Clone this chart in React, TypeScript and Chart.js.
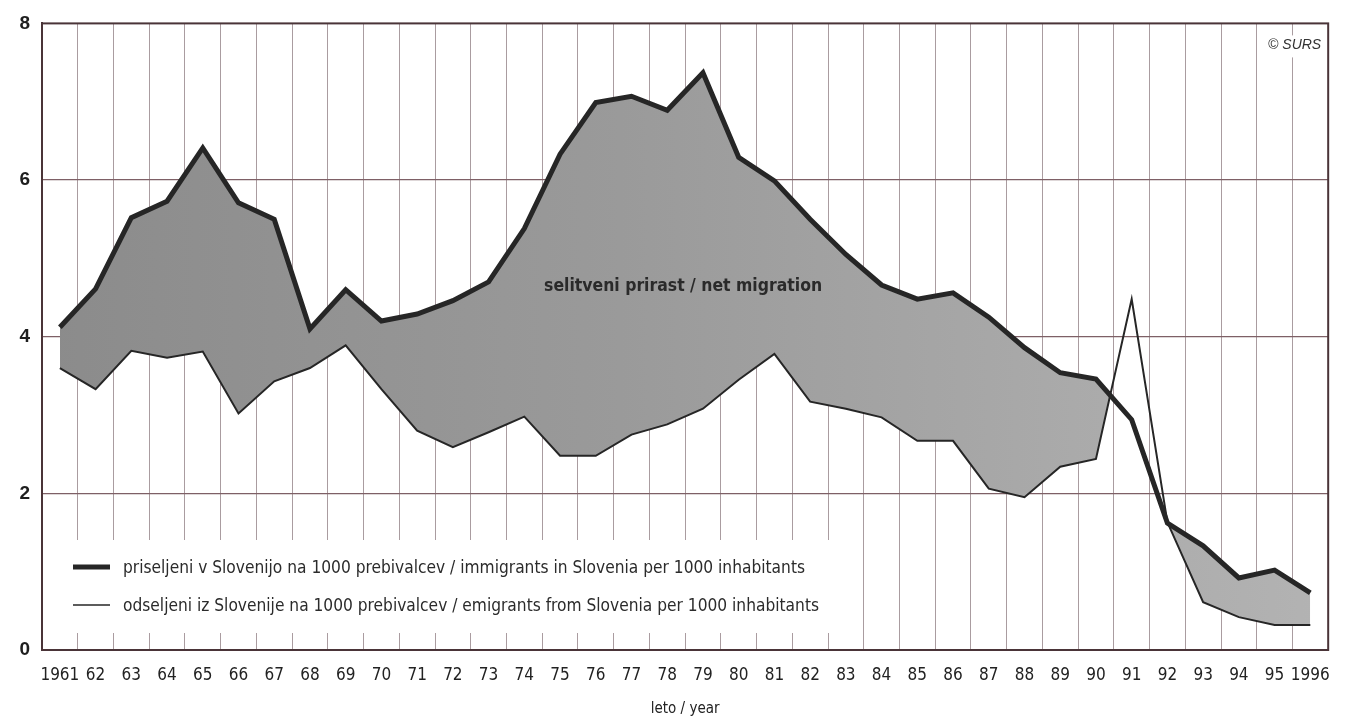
import React, { useEffect, useRef } from 'react';
import { Chart, registerables } from 'chart.js';

Chart.register(...registerables);

const years = ['1961', '62', '63', '64', '65', '66', '67', '68', '69', '70', '71', '72', '73', '74', '75', '76', '77', '78', '79', '80', '81', '82', '83', '84', '85', '86', '87', '88', '89', '90', '91', '92', '93', '94', '95', '1996'];

const immigrants = [4.12, 4.61, 5.52, 5.73, 6.41, 5.71, 5.5, 4.1, 4.6, 4.2, 4.29, 4.46, 4.7, 5.38, 6.33, 6.99, 7.07, 6.89, 7.37, 6.29, 5.99, 5.5, 5.05, 4.66, 4.48, 4.56, 4.25, 3.86, 3.54, 3.46, 2.94, 1.62, 1.33, 0.92, 1.02, 0.73];

const emigrants = [3.6, 3.33, 3.82, 3.73, 3.81, 3.02, 3.43, 3.6, 3.89, 3.33, 2.8, 2.59, 2.78, 2.98, 2.48, 2.48, 2.75, 2.88, 3.08, 3.45, 3.78, 3.17, 3.08, 2.97, 2.67, 2.67, 2.06, 1.95, 2.34, 2.44, 4.48, 1.63, 0.61, 0.42, 0.32, 0.32];

const yTickValues = [0, 2, 4, 6, 8];

const legendLabels = [
  'priseljeni v Slovenijo na 1000 prebivalcev / immigrants in Slovenia per 1000 inhabitants',
  'odseljeni iz Slovenije na 1000 prebivalcev / emigrants from Slovenia per 1000 inhabitants',
];
const areaLabel = 'selitveni prirast / net migration';
const xTitle = 'leto / year';
const credit = '© SURS';

const NARROW = "'Liberation Sans Narrow', 'Arial Narrow', 'DejaVu Sans Condensed', 'Liberation Sans', Arial, sans-serif";
const SANS = "'Liberation Sans', Arial, sans-serif";
const INK = '#262626';
const FRAME = '#4a3438';

function fitText(ctx: CanvasRenderingContext2D, text: string, x: number, y: number, maxW: number, align: 'left' | 'center' | 'right') {
  const w = ctx.measureText(text).width;
  const sx = w > maxW ? maxW / w : 1;
  ctx.save();
  ctx.translate(x, y);
  ctx.scale(sx, 1);
  ctx.textAlign = align;
  ctx.fillText(text, 0, 0);
  ctx.restore();
}

const overlayPlugin = {
  id: 'overlay',
  beforeDatasetsDraw(chart: any) {
    const { ctx, chartArea: a } = chart;
    ctx.save();
    // legend box (covers grid lines)
    ctx.fillStyle = '#ffffff';
    ctx.fillRect(a.left + 2, a.bottom - 110, 803 - (a.left + 2) + 42, 93);
    // legend entries
    const rows = [a.bottom - 83, a.bottom - 45];
    const widths = [5, 1.6];
    const maxW = [682, 696];
    chart.data.datasets.forEach((ds: any, i: number) => {
      ctx.strokeStyle = INK;
      ctx.lineWidth = widths[i];
      ctx.beginPath();
      ctx.moveTo(a.left + 31, rows[i]);
      ctx.lineTo(a.left + 68, rows[i]);
      ctx.stroke();
      ctx.fillStyle = '#2b2b2b';
      ctx.font = `18px ${NARROW}`;
      ctx.textBaseline = 'middle';
      fitText(ctx, ds.label, a.left + 81, rows[i] + 1, maxW[i], 'left');
    });
    // credit
    ctx.font = `italic 14px ${SANS}`;
    ctx.textBaseline = 'middle';
    const cw = ctx.measureText(credit).width;
    ctx.fillStyle = '#ffffff';
    ctx.fillRect(a.right - 8 - cw - 3, a.top + 12, cw + 6, 22);
    ctx.fillStyle = '#333333';
    ctx.textAlign = 'right';
    ctx.fillText(credit, a.right - 7, a.top + 22);
    // frame
    ctx.strokeStyle = FRAME;
    ctx.lineWidth = 2;
    ctx.strokeRect(a.left, a.top, a.right - a.left, a.bottom - a.top);
    ctx.restore();
  },
  afterDatasetsDraw(chart: any) {
    const { ctx, chartArea: a } = chart;
    ctx.save();
    ctx.fillStyle = '#2a2a2a';
    ctx.font = `bold 18px ${NARROW}`;
    ctx.textBaseline = 'middle';
    fitText(ctx, areaLabel, (a.left + a.right) / 2 - 2, a.top + 263, 278, 'center');
    ctx.restore();
  },
};

export default function App() {
  const ref = useRef<HTMLCanvasElement | null>(null);

  useEffect(() => {
    document.body.style.margin = '0';
    document.body.style.background = '#ffffff';
    const canvas = ref.current;
    if (!canvas) return;

    const fillColor = (context: any) => {
      const chart = context.chart;
      const a = chart.chartArea;
      if (!a) return '#9c9c9c';
      const g = chart.ctx.createLinearGradient(a.left, 0, a.right, 0);
      g.addColorStop(0, '#8b8b8b');
      g.addColorStop(0.45, '#9a9a9a');
      g.addColorStop(1, '#b3b3b3');
      return g;
    };

    const chart = new Chart(canvas, {
      type: 'line',
      data: {
        labels: years,
        datasets: [
          {
            label: legendLabels[0],
            data: immigrants,
            borderColor: INK,
            borderWidth: 5,
            borderJoinStyle: 'miter',
            pointRadius: 0,
            tension: 0,
            backgroundColor: fillColor,
            fill: { target: 1, below: 'rgba(0,0,0,0)' },
          },
          {
            label: legendLabels[1],
            data: emigrants,
            borderColor: INK,
            borderWidth: 2,
            borderJoinStyle: 'miter',
            pointRadius: 0,
            tension: 0,
            fill: false,
          },
        ],
      },
      options: {
        responsive: false,
        animation: false,
        events: [],
        layout: { padding: { top: 22, right: 16, left: 0, bottom: 0 } },
        plugins: {
          legend: { display: false },
          tooltip: { enabled: false },
          filler: { drawTime: 'beforeDatasetsDraw' },
        },
        scales: {
          x: {
            type: 'category',
            offset: true,
            grid: { offset: true, color: '#aa9ca0', lineWidth: 1, drawTicks: false },
            border: { display: true, color: FRAME, width: 2 },
            ticks: {
              autoSkip: false,
              maxRotation: 0,
              padding: 15,
              color: '#222222',
              font: { family: NARROW, size: 17 },
            },
            title: {
              display: true,
              text: xTitle,
              color: '#222222',
              font: { family: NARROW, size: 15 },
              padding: { top: 0, bottom: 2 },
            },
            afterFit: (s: any) => {
              s.height = 70;
            },
          },
          y: {
            min: 0,
            max: 8,
            afterBuildTicks: (s: any) => {
              s.ticks = yTickValues.map((v) => ({ value: v }));
            },
            grid: {
              drawTicks: false,
              lineWidth: 1.2,
              color: (c: any) => (c.tick && (c.tick.value === 0 || c.tick.value === 8) ? 'rgba(0,0,0,0)' : '#7e6066'),
            },
            border: { display: true, color: FRAME, width: 2 },
            ticks: {
              padding: 12,
              color: '#1e1e1e',
              font: { family: SANS, size: 19, weight: 'bold' },
            },
            afterFit: (s: any) => {
              s.width = 42;
            },
          },
        },
      },
      plugins: [overlayPlugin],
    } as any);

    return () => chart.destroy();
  }, []);

  return (
    <div style={{ width: 1345, height: 720, overflow: 'hidden', background: '#ffffff' }}>
      <canvas ref={ref} width={1345} height={720} style={{ display: 'block' }} />
    </div>
  );
}
